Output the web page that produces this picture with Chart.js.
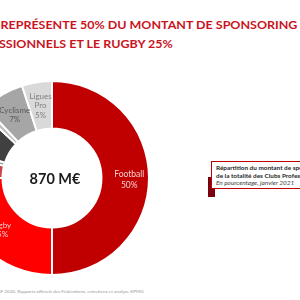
<!DOCTYPE html>
<html><head><meta charset="utf-8">
<script src="https://cdn.jsdelivr.net/npm/chart.js@4"></script>
<style>
html,body{margin:0;padding:0;width:300px;height:300px;overflow:hidden;background:#fff;font-family:Lato,"Open Sans",sans-serif;position:relative}
.t{position:absolute;white-space:nowrap;color:#C9141E;font-weight:bold;font-size:11.5px;line-height:12px;transform-origin:0 0}
#box{position:absolute;left:211px;top:161px;width:120px;height:28px;border:1px solid #C00000;background:#fff;font-size:6.4px;line-height:7.6px;color:#1f1f1f;padding:2px 0 0 4px;white-space:nowrap;box-sizing:border-box}
#blk{position:absolute;left:208px;top:177px;width:7px;height:20px;background:#7A0010}
#src{position:absolute;left:-7px;top:288px;font-size:4.6px;color:#9a9a9a;white-space:nowrap}
</style></head><body>
<div id="t1" class="t" style="top:19px"></div>
<div id="t2" class="t" style="top:38px"></div>
<canvas id="c" width="196" height="196" style="position:absolute;left:-46px;top:80px"></canvas>
<div id="blk"></div>
<div id="box"><b>Répartition du montant de sponsoring</b><br><b>de la totalité des Clubs Professionnels</b><br><i style="color:#404040">En pourcentage, janvier 2021</i></div>
<div id="src">ESSF 2020, Rapports officiels des Fédérations, entretiens et analyse KPMG</div>
<script>
const categories = ["Football","Rugby","Handball","Volley-ball","Basketball","Hockey","Cyclisme","Ligues Pro"];
const values = [50,25,4,1,7,1,7,5];
const total = "870 M€";
const titleLine1 = ["LE FOOTBALL ", "REPRÉSENTE 50% DU MONTANT DE SPONSORING", " DES CLUBS"];
const titleLine2 = ["PROFE", "SSIONNELS ET LE RUGBY 25%", ""];

const colors = ["#C00000","#FF0000","#C8474A","#8C8C8C","#404040","#BFBFBF","#A6A6A6","#D9D9D9"];
const labelColors = ["#F6D0D0","#F6D0D0",null,null,null,null,"#595959","#7F7F7F"];

function build(el, parts){
  el.innerHTML = '';
  return parts.map(p => { const s = document.createElement('span'); s.textContent = p; el.appendChild(s); return s; });
}
function doTitle(){
  const t1 = document.getElementById('t1'), t2 = document.getElementById('t2');
  t1.style.transform = ''; t2.style.transform = '';
  const s1 = build(t1, titleLine1);
  const s2 = build(t2, titleLine2);
  const visW = s1[1].getBoundingClientRect().width;
  const sx = 297 / visW;
  [[t1, s1, 0], [t2, s2, -1]].forEach(([el, spans, dx]) => {
    const off = spans[0].getBoundingClientRect().width;
    el.style.left = (-off * sx + dx) + 'px';
    el.style.transform = 'scaleX(' + sx + ')';
  });
}

const labelPlugin = {
  id: 'lbl',
  afterDatasetsDraw(chart){
    const ctx = chart.ctx;
    const meta = chart.getDatasetMeta(0);
    ctx.save();
    ctx.textAlign = 'center';
    ctx.textBaseline = 'middle';
    meta.data.forEach((arc, i) => {
      if (!labelColors[i]) return;
      const p = arc.tooltipPosition();
      const lines = categories[i].split(' ').concat([values[i] + '%']);
      ctx.fillStyle = labelColors[i];
      ctx.font = (i === 0 ? '8.5px' : '8px') + ' Lato';
      const lh = i === 0 ? 10.5 : 9.5;
      const x = p.x + (i === 0 ? 4 : 0);
      const y0 = p.y - (lines.length - 1) * lh / 2 + (i === 0 ? 2 : 0);
      lines.forEach((l, k) => ctx.fillText(l, x, y0 + k * lh));
    });
    const a = meta.data[0];
    ctx.fillStyle = '#1a1a1a';
    ctx.font = 'bold 14.5px Lato';
    ctx.fillText(total, a.x + 3, a.y + 1);
    ctx.restore();
  }
};

const chart = new Chart(document.getElementById('c'), {
  type: 'doughnut',
  data: { labels: categories, datasets: [{ data: values, backgroundColor: colors, borderColor: '#fff', borderWidth: 2 }] },
  options: {
    responsive: false, animation: false, devicePixelRatio: 1,
    cutout: '51%',
    layout: { padding: 0 },
    plugins: { legend: { display: false }, tooltip: { enabled: false } }
  },
  plugins: [labelPlugin]
});
doTitle();
document.fonts.ready.then(() => { doTitle(); chart.update(); });
</script>
</body></html>
